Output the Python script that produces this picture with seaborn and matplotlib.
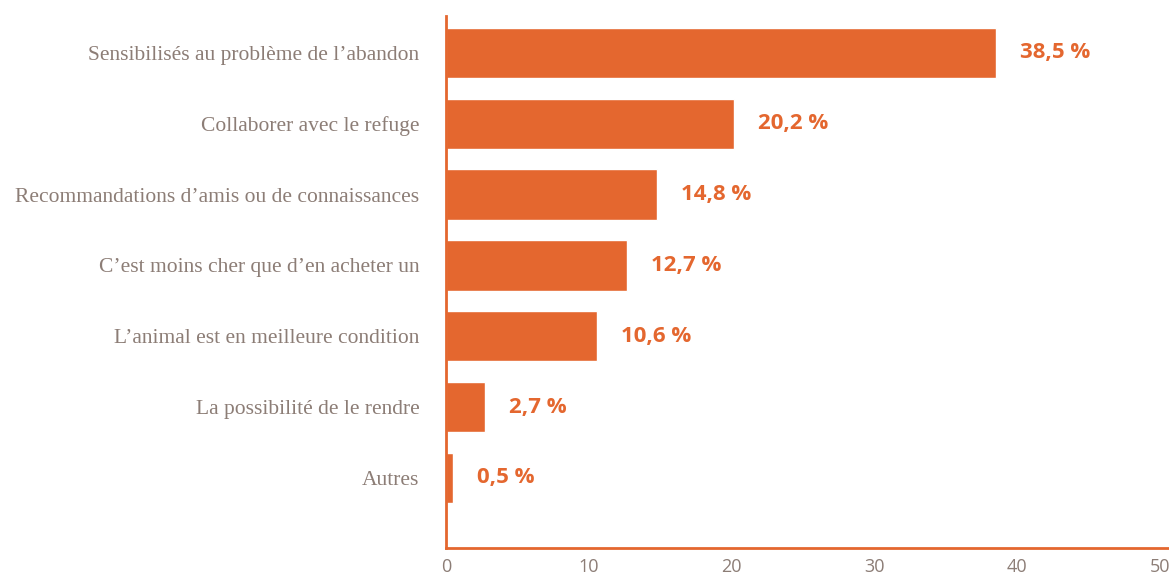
import matplotlib
matplotlib.use("Agg")
import matplotlib.pyplot as plt
import seaborn as sns
import pandas as pd

categories = [
    "Sensibilisés au problème de l\u2019abandon",
    "Collaborer avec le refuge",
    "Recommandations d\u2019amis ou de connaissances",
    "C\u2019est moins cher que d\u2019en acheter un",
    "L\u2019animal est en meilleure condition",
    "La possibilité de le rendre",
    "Autres",
]
values = [38.5, 20.2, 14.8, 12.7, 10.6, 2.7, 0.5]
value_labels = ["38,5 %", "20,2 %", "14,8 %", "12,7 %", "10,6 %", "2,7 %", "0,5 %"]
xticks = [0, 10, 20, 30, 40, 50]

ORANGE = "#E4672F"
GREY = "#8C7D76"

sns.set_theme(style="white")
df = pd.DataFrame({"cat": categories, "val": values})

fig = plt.figure(figsize=(11.69, 5.8), dpi=100)
ax = fig.add_axes([446 / 1169, 32 / 580, (1160 - 446) / 1169, (548 - 16) / 580])
sns.barplot(data=df, y="cat", x="val", orient="h", color=ORANGE, saturation=1,
            width=0.71, ax=ax)

ax.set_xlim(0, 50)
ax.set_ylim(6.99, -0.52)
ax.set_xticks(xticks)
ax.set_xticklabels([str(t) for t in xticks], fontsize=13, color=GREY,
                   family=["Open Sans", "DejaVu Sans"])
ax.tick_params(axis="x", length=0, pad=7)
ax.tick_params(axis="y", length=0, pad=19)
for lab in ax.get_yticklabels():
    lab.set_fontfamily(["Liberation Serif", "DejaVu Serif"])
    lab.set_fontsize(15.5)
    lab.set_color(GREY)
ax.set_xlabel("")
ax.set_ylabel("")

for s in ["top", "right"]:
    ax.spines[s].set_visible(False)
for s in ["left", "bottom"]:
    ax.spines[s].set_color(ORANGE)
    ax.spines[s].set_linewidth(2)
ax.spines["bottom"].set_clip_on(False)
ax.spines["bottom"].set_bounds(0, 51)

for i, (v, t) in enumerate(zip(values, value_labels)):
    ax.annotate(t, xy=(v, i), xytext=(24, 0), textcoords="offset pixels",
                ha="left", va="center", color=ORANGE, fontsize=16,
                fontweight="bold", family=["Open Sans", "DejaVu Sans"])

fig.savefig("out.png", dpi=100)
